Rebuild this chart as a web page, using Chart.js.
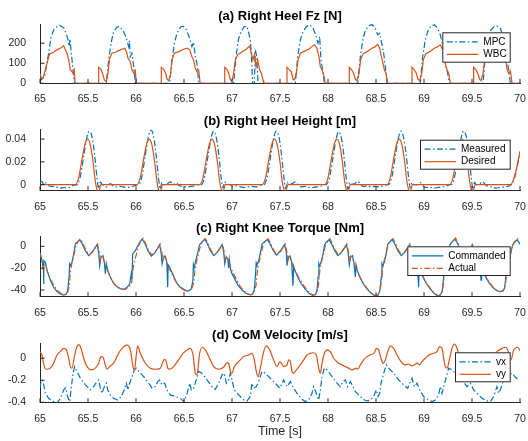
<!DOCTYPE html>
<html lang="en">
<head>
<meta charset="UTF-8">
<title>Right Heel / Knee / CoM</title>
<script src="https://cdn.jsdelivr.net/npm/chart.js"></script>
<style>
  body { margin: 0; background: #fff; }
  #wrap { position: relative; width: 528px; height: 441px; }
  #wrap canvas { position: absolute; left: 0; }
</style>
</head>
<body>
<div id="wrap">
  <canvas id="fzChart" width="528" height="108" style="top:0px"></canvas>
  <canvas id="heightChart" width="528" height="102" style="top:108px"></canvas>
  <canvas id="torqueChart" width="528" height="106" style="top:210px"></canvas>
  <canvas id="velChart" width="528" height="125" style="top:316px"></canvas>
</div>
<script>
// ---- ticks ----
const xTicks = [65, 65.5, 66, 66.5, 67, 67.5, 68, 68.5, 69, 69.5, 70];
const fzTicks = [0, 100, 200];
const heightTicks = [0, 0.02, 0.04];
const torqueTicks = [-40, -20, 0];
const velTicks = [-0.4, -0.2, 0];

// ---- (a) right heel Fz [N], [time, value] ----
const fzMpc = [
  [65.000, 30], [65.012, 18], [65.03, 25], [65.05, 38], [65.09, 150], [65.115, 233], [65.15, 275], [65.205, 290],
  [65.247, 277], [65.274, 245], [65.292, 218], [65.303, 185], [65.313, 222], [65.323, 165], [65.344, 67], [65.358, 0],
  [65.69, 0], [65.715, 117], [65.74, 200], [65.767, 258], [65.80, 280], [65.83, 284], [65.865, 265], [65.90, 225],
  [65.924, 183], [65.932, 212], [65.94, 133], [65.958, 150], [65.976, 83], [65.993, 0],
  [66.351, 0], [66.375, 117], [66.40, 200], [66.427, 250], [66.462, 280], [66.49, 285], [66.524, 268], [66.559, 225],
  [66.583, 183], [66.60, 205], [66.618, 133], [66.635, 100], [66.653, 0],
  [67.017, 0], [67.042, 133], [67.066, 217], [67.094, 258], [67.128, 283], [67.156, 284], [67.174, 252], [67.191, 217],
  [67.201, 150], [67.215, 0], [67.233, 0], [67.243, 167], [67.257, 133], [67.271, 0],
  [67.66, 0], [67.684, 133], [67.712, 217], [67.74, 258], [67.774, 283], [67.809, 292], [67.844, 275], [67.872, 242],
  [67.896, 200], [67.913, 233], [67.927, 117], [67.944, 67], [67.962, 0],
  [68.309, 0], [68.337, 133], [68.365, 225], [68.392, 267], [68.427, 288], [68.462, 293], [68.493, 275], [68.517, 242],
  [68.538, 250], [68.559, 200], [68.58, 150], [68.597, 83], [68.615, 0],
  [68.962, 0], [68.986, 133], [69.014, 217], [69.042, 263], [69.076, 288], [69.111, 292], [69.142, 275], [69.17, 242],
  [69.194, 192], [69.212, 133], [69.229, 83], [69.247, 50], [69.264, 0],
  [69.615, 0], [69.639, 133], [69.663, 217], [69.698, 267], [69.733, 285], [69.76, 286], [69.795, 275], [69.823, 233],
  [69.847, 183], [69.865, 117], [69.882, 67], [69.899, 0], [70.0, 0]
];
const fzWbc = [
  [65.000, 50], [65.014, 25], [65.031, 25], [65.045, 50], [65.073, 100], [65.10, 147], [65.142, 155], [65.177, 167],
  [65.212, 175], [65.247, 188], [65.264, 167], [65.281, 150], [65.299, 117], [65.316, 67], [65.333, 58], [65.344, 50],
  [65.356, 67], [65.366, 0],
  [65.611, 0], [65.611, 80], [65.635, 70], [65.656, 42], [65.67, 17], [65.69, 8], [65.708, 50], [65.726, 125],
  [65.75, 150], [65.785, 155], [65.82, 163], [65.854, 170], [65.882, 175], [65.90, 158], [65.917, 125], [65.94, 108],
  [65.958, 67], [65.976, 50], [65.993, 63], [66.003, 0],
  [66.264, 0], [66.264, 80], [66.288, 70], [66.309, 50], [66.323, 20], [66.34, 13], [66.358, 42], [66.375, 117],
  [66.40, 150], [66.444, 158], [66.497, 170], [66.531, 175], [66.559, 167], [66.583, 133], [66.60, 117], [66.618, 75],
  [66.635, 58], [66.653, 67], [66.668, 0],
  [66.924, 0], [66.924, 80], [66.948, 70], [66.965, 50], [66.983, 17], [67.0, 12], [67.017, 50], [67.035, 117],
  [67.059, 142], [67.104, 158], [67.149, 170], [67.184, 187], [67.201, 150], [67.219, 117], [67.233, 142], [67.25, 83],
  [67.267, 117], [67.288, 67], [67.306, 50], [67.323, 17], [67.33, 0],
  [67.573, 0], [67.573, 80], [67.597, 67], [67.618, 58], [67.635, 20], [67.649, 17], [67.67, 50], [67.688, 117],
  [67.712, 150], [67.747, 158], [67.799, 170], [67.833, 183], [67.858, 192], [67.885, 175], [67.906, 133], [67.92, 83],
  [67.938, 67], [67.955, 42], [67.972, 0],
  [68.222, 0], [68.222, 80], [68.247, 67], [68.267, 50], [68.285, 20], [68.302, 13], [68.323, 50], [68.34, 117],
  [68.365, 147], [68.406, 158], [68.458, 175], [68.493, 183], [68.517, 195], [68.538, 175], [68.556, 133], [68.573, 100],
  [68.587, 67], [68.604, 50], [68.622, 0],
  [68.875, 0], [68.875, 80], [68.899, 67], [68.92, 50], [68.938, 20], [68.955, 13], [68.976, 50], [68.993, 117],
  [69.017, 147], [69.059, 158], [69.108, 175], [69.142, 183], [69.17, 192], [69.191, 170], [69.208, 133], [69.226, 92],
  [69.24, 67], [69.257, 50], [69.274, 0],
  [69.517, 0], [69.517, 80], [69.542, 67], [69.559, 50], [69.58, 20], [69.594, 13], [69.615, 50], [69.632, 117],
  [69.656, 147], [69.70, 160], [69.75, 172], [69.80, 185], [69.823, 175], [69.847, 133], [69.865, 67], [69.882, 50],
  [69.90, 63], [69.917, 0], [70.0, 0]
];

// ---- (b) right heel height [m] ----
const heightMeasured = [
  [65.0, 0.0015], [65.02, 0.003], [65.04, 0.0], [65.06, 0.0015], [65.09, -0.001], [65.13, -0.0015], [65.17, -0.002],
  [65.21, -0.003], [65.25, -0.0025], [65.29, -0.003], [65.32, -0.002], [65.35, -0.0005],
  [65.385, 0], [65.42, 0.0073], [65.455, 0.025], [65.49, 0.042], [65.514, 0.047], [65.542, 0.042], [65.569, 0.026],
  [65.594, 0.006], [65.611, -0.0035], [65.628, 0.0023], [65.646, 0.0005],
  [65.70, -0.002], [65.73, 0.001], [65.76, -0.001], [65.79, -0.002], [65.83, -0.0015], [65.87, -0.002], [65.90, -0.0025],
  [65.94, -0.002], [65.98, -0.001], [66.02, 0.0],
  [66.027, 0], [66.062, 0.0075], [66.097, 0.026], [66.132, 0.043], [66.156, 0.048], [66.184, 0.042], [66.211, 0.025],
  [66.236, 0.005], [66.253, -0.004], [66.27, 0.002], [66.288, 0.0],
  [66.33, 0.001], [66.36, 0.0025], [66.39, 0.0], [66.42, 0.0015], [66.45, -0.001], [66.49, -0.0015], [66.53, -0.002],
  [66.57, -0.0015], [66.61, -0.001], [66.65, 0.0], [66.675, 0.0],
  [66.68, 0], [66.715, 0.007], [66.75, 0.025], [66.785, 0.042], [66.809, 0.047], [66.837, 0.041], [66.864, 0.025],
  [66.889, 0.005], [66.906, -0.003], [66.923, 0.0025], [66.941, 0.0005],
  [66.98, 0.0], [67.01, -0.0015], [67.05, -0.001], [67.09, -0.002], [67.13, -0.0025], [67.17, -0.002], [67.21, -0.0015],
  [67.25, -0.002], [67.29, -0.001], [67.325, 0],
  [67.332, 0], [67.367, 0.007], [67.402, 0.025], [67.437, 0.042], [67.461, 0.047], [67.489, 0.042], [67.516, 0.026],
  [67.541, 0.006], [67.558, -0.0035], [67.575, 0.002], [67.593, 0.0],
  [67.63, 0.001], [67.66, 0.0025], [67.69, 0.0], [67.72, -0.002], [67.76, -0.0015], [67.80, -0.0025], [67.84, -0.0025],
  [67.88, -0.002], [67.92, -0.0015], [67.975, 0],
  [67.982, 0], [68.017, 0.0068], [68.052, 0.024], [68.087, 0.041], [68.111, 0.0465], [68.139, 0.041], [68.166, 0.025],
  [68.191, 0.005], [68.208, -0.004], [68.225, 0.002], [68.243, 0.0005],
  [68.28, 0.001], [68.31, 0.003], [68.34, 0.0], [68.37, -0.0015], [68.41, -0.001], [68.45, -0.002], [68.49, -0.0015],
  [68.53, -0.002], [68.57, -0.001], [68.625, 0],
  [68.631, 0], [68.666, 0.007], [68.701, 0.025], [68.736, 0.042], [68.76, 0.047], [68.788, 0.041], [68.815, 0.026],
  [68.84, 0.006], [68.857, -0.003], [68.874, 0.002], [68.892, 0.0],
  [68.93, 0.0], [68.96, 0.002], [68.99, -0.001], [69.02, -0.0025], [69.06, -0.002], [69.10, -0.003], [69.14, -0.0025],
  [69.18, -0.002], [69.22, -0.0015], [69.275, 0],
  [69.284, 0], [69.319, 0.007], [69.354, 0.025], [69.389, 0.042], [69.413, 0.047], [69.441, 0.042], [69.468, 0.026],
  [69.493, 0.006], [69.51, -0.004], [69.527, 0.002], [69.545, 0.0],
  [69.58, 0.001], [69.61, 0.0025], [69.64, 0.0], [69.67, -0.0015], [69.71, -0.002], [69.75, -0.003], [69.79, -0.0025],
  [69.83, -0.002], [69.87, -0.0015], [69.91, 0.0], [69.94, 0.005], [69.97, 0.015], [70.0, 0.029]
];
const heightDesired = [
  [65.0, 0], [65.367, 0], [65.402, 0.0058], [65.437, 0.022], [65.472, 0.0365], [65.497, 0.04], [65.524, 0.035],
  [65.552, 0.0205], [65.576, 0.003], [65.594, -0.0044], [65.611, -0.006], [65.635, 0],
  [66.009, 0], [66.044, 0.006], [66.079, 0.0222], [66.114, 0.0366], [66.139, 0.04], [66.166, 0.0348], [66.194, 0.0203],
  [66.218, 0.0028], [66.236, -0.0045], [66.253, -0.006], [66.277, 0],
  [66.662, 0], [66.697, 0.0057], [66.732, 0.022], [66.767, 0.0364], [66.792, 0.04], [66.819, 0.035], [66.847, 0.0204],
  [66.871, 0.003], [66.889, -0.0044], [66.906, -0.006], [66.93, 0],
  [67.314, 0], [67.349, 0.0059], [67.384, 0.0221], [67.419, 0.0365], [67.444, 0.04], [67.471, 0.0349], [67.499, 0.0205],
  [67.523, 0.0029], [67.541, -0.0044], [67.558, -0.006], [67.582, 0],
  [67.964, 0], [67.999, 0.0058], [68.034, 0.022], [68.069, 0.0366], [68.094, 0.04], [68.121, 0.035], [68.149, 0.0206],
  [68.173, 0.003], [68.191, -0.0043], [68.208, -0.006], [68.232, 0],
  [68.613, 0], [68.648, 0.0058], [68.683, 0.0221], [68.718, 0.0365], [68.743, 0.04], [68.77, 0.035], [68.798, 0.0205],
  [68.822, 0.003], [68.84, -0.0044], [68.857, -0.006], [68.881, 0],
  [69.266, 0], [69.301, 0.0058], [69.336, 0.022], [69.371, 0.0365], [69.396, 0.04], [69.423, 0.035], [69.451, 0.0205],
  [69.475, 0.003], [69.493, -0.0044], [69.51, -0.006], [69.534, 0],
  [69.90, 0], [69.93, 0.004], [69.96, 0.013], [70.0, 0.029]
];

// ---- (c) right knee torque [Nm] ----
const torqueCommanded = [
  [65.0, -7.6], [65.003, -8.5], [65.021, -13], [65.036, -20], [65.038, -34.5], [65.041, -13], [65.056, -14.6],
  [65.073, -22], [65.108, -31], [65.142, -37.5], [65.177, -41.5], [65.212, -43.7],
  [65.247, -44.6], [65.274, -43.7], [65.288, -40.6], [65.302, -28.4], [65.309, -16.2], [65.316, -17.7], [65.333, -14.6],
  [65.351, -7], [65.368, 2.1], [65.385, 3.7], [65.413, 5.8], [65.438, 2.7], [65.472, -4], [65.507, -8.5], [65.542, -5.5],
  [65.576, -0.9], [65.594, 1.5], [65.611, -5.5], [65.622, -17.7], [65.635, -10], [65.656, -8.5], [65.67, -14.6],
  [65.681, -25], [65.691, -16], [65.705, -22], [65.733, -28.4], [65.767, -34], [65.809, -37.5], [65.844, -39],
  [65.878, -39.5],
  [65.906, -37.5], [65.934, -34.5], [65.951, -25], [65.958, -30], [65.965, -7], [65.976, -6], [65.993, -4], [66.01, -0.9],
  [66.045, 4.6], [66.065, 6.7], [66.09, 3], [66.125, -4], [66.16, -9], [66.195, -6], [66.228, -1.5], [66.246, 1.2],
  [66.262, -6], [66.272, -16], [66.284, -11], [66.305, -9], [66.322, -15], [66.33, -37.5], [66.335, -17], [66.35, -19],
  [66.37, -23], [66.39, -27], [66.42, -33], [66.46, -37.5], [66.50, -40], [66.53, -41],
  [66.555, -40.5], [66.575, -39], [66.592, -32], [66.598, -17], [66.605, -20], [66.62, -14], [66.64, -7], [66.66, 1],
  [66.683, 3.5], [66.715, 6.5], [66.74, 3], [66.775, -4], [66.81, -8.5], [66.845, -5.5], [66.88, -1], [66.897, 1.5],
  [66.913, -5], [66.925, -16], [66.937, -10], [66.955, -11], [66.965, -20], [66.972, -12], [66.985, -21], [67.0, -25],
  [67.03, -30], [67.065, -36], [67.105, -40], [67.145, -43], [67.19, -44.5],
  [67.215, -43.5], [67.232, -40], [67.245, -26], [67.252, -15], [67.26, -17], [67.278, -13], [67.296, -6], [67.313, 2],
  [67.335, 4], [67.368, 6], [67.392, 3], [67.428, -3.5], [67.463, -8], [67.497, -5], [67.531, -0.5], [67.548, 1.5],
  [67.566, -5.5], [67.573, -17.7], [67.585, -10], [67.605, -9], [67.622, -15], [67.635, -36], [67.642, -18],
  [67.655, -22], [67.685, -28], [67.72, -34], [67.76, -39], [67.80, -43], [67.84, -44.8],
  [67.87, -44], [67.885, -40.5], [67.898, -28], [67.905, -16], [67.912, -18], [67.93, -14], [67.948, -7], [67.965, 1.5],
  [67.985, 4], [68.01, 6], [68.035, 2.5], [68.07, -4], [68.105, -8.5], [68.14, -5.5], [68.175, -1], [68.192, 1.5],
  [68.21, -5.5], [68.222, -17], [68.235, -10], [68.255, -8.5], [68.27, -15], [68.285, -28], [68.292, -17], [68.305, -22],
  [68.33, -28], [68.365, -34], [68.405, -39], [68.45, -43], [68.49, -45.3],
  [68.52, -44.5], [68.54, -41], [68.555, -28], [68.562, -16], [68.57, -18], [68.588, -14], [68.606, -7], [68.623, 2],
  [68.643, 4], [68.668, 6], [68.693, 2.7], [68.728, -4], [68.763, -8.5], [68.797, -5.5], [68.832, -1], [68.85, 1.5],
  [68.866, -5.5], [68.877, -17], [68.89, -10], [68.91, -8.5], [68.93, -15], [68.944, -37.5], [68.95, -17], [68.962, -22],
  [68.99, -28.4], [69.025, -34], [69.065, -39], [69.105, -43], [69.14, -45.3],
  [69.17, -44.5], [69.19, -41], [69.205, -28], [69.212, -16], [69.22, -18], [69.238, -14], [69.256, -7], [69.273, 2],
  [69.293, 4], [69.322, 6.5], [69.347, 3], [69.382, -4], [69.417, -8.5], [69.451, -5.5], [69.486, -1], [69.503, 1.5],
  [69.52, -5.5], [69.53, -17], [69.543, -10], [69.565, -8.5], [69.58, -15], [69.594, -31], [69.60, -17], [69.615, -22],
  [69.642, -28], [69.675, -33], [69.715, -37.5], [69.755, -40.5], [69.79, -41.5],
  [69.82, -41], [69.84, -38], [69.855, -26], [69.862, -15], [69.87, -17], [69.888, -13], [69.905, -6], [69.922, 1],
  [69.942, 3.5], [69.97, 6], [69.985, 4], [70.0, 2]
];
const torqueActual = [
  [65.0, -6], [65.015, -10], [65.03, -20], [65.045, -16], [65.06, -18], [65.08, -24], [65.11, -30], [65.145, -36],
  [65.18, -40.5], [65.215, -43], [65.255, -44.5],
  [65.285, -43], [65.305, -36], [65.318, -22], [65.333, -15], [65.353, -8], [65.373, 0], [65.393, 4], [65.421, 7],
  [65.443, 3.5], [65.478, -3.5], [65.513, -8], [65.548, -5], [65.581, -0.5], [65.599, 2], [65.618, -6], [65.628, -13],
  [65.641, -9], [65.663, -12], [65.683, -18], [65.698, -20], [65.713, -24], [65.743, -30], [65.778, -35], [65.813, -37.5],
  [65.853, -39], [65.888, -39.5],
  [65.93, -37], [65.955, -33], [65.97, -20], [65.985, -13], [66.005, -7], [66.025, 0], [66.045, 4], [66.073, 7.5],
  [66.095, 3.5], [66.13, -3.5], [66.165, -8], [66.20, -5], [66.233, -0.5], [66.251, 2], [66.27, -6], [66.28, -13],
  [66.293, -9], [66.315, -12], [66.335, -20], [66.35, -21], [66.365, -24], [66.395, -29], [66.43, -34], [66.465, -37.5],
  [66.505, -39.5], [66.54, -41],
  [66.58, -39], [66.60, -34], [66.615, -21], [66.63, -14], [66.65, -7], [66.67, 0], [66.69, 4], [66.723, 7],
  [66.745, 3.5], [66.78, -3.5], [66.815, -8], [66.85, -5], [66.883, -0.5], [66.901, 2], [66.92, -6], [66.93, -13],
  [66.943, -9], [66.965, -14], [66.985, -19], [67.0, -22], [67.015, -25], [67.045, -30], [67.08, -36], [67.115, -40],
  [67.155, -43], [67.195, -44.5],
  [67.225, -43.5], [67.25, -36], [67.265, -22], [67.28, -15], [67.30, -8], [67.32, 0], [67.34, 4], [67.376, 7],
  [67.398, 3.5], [67.433, -3.5], [67.468, -8], [67.503, -5], [67.536, -0.5], [67.554, 2], [67.573, -6], [67.583, -13],
  [67.596, -9], [67.618, -12], [67.638, -20], [67.653, -21], [67.668, -24], [67.698, -29], [67.733, -34], [67.768, -38.5],
  [67.808, -42.5], [67.848, -44.8],
  [67.88, -43.5], [67.90, -36], [67.915, -22], [67.93, -15], [67.95, -8], [67.97, 0], [67.99, 4], [68.018, 7],
  [68.04, 3.5], [68.075, -3.5], [68.11, -8], [68.145, -5], [68.178, -0.5], [68.196, 2], [68.215, -6], [68.225, -13],
  [68.238, -9], [68.26, -12], [68.28, -18], [68.295, -20], [68.31, -24], [68.34, -29], [68.375, -34.5], [68.41, -39],
  [68.455, -43], [68.495, -45.3],
  [68.53, -44], [68.55, -36], [68.565, -22], [68.58, -15], [68.60, -8], [68.62, 0], [68.64, 4], [68.676, 7],
  [68.698, 3.5], [68.733, -3.5], [68.768, -8], [68.803, -5], [68.836, -0.5], [68.854, 2], [68.873, -6], [68.883, -13],
  [68.896, -9], [68.918, -12], [68.938, -19], [68.953, -21], [68.968, -24], [68.998, -29], [69.033, -34.5], [69.07, -39],
  [69.11, -43], [69.148, -45.3],
  [69.18, -44], [69.20, -36], [69.215, -22], [69.23, -15], [69.25, -8], [69.27, 0], [69.29, 4], [69.33, 7.5],
  [69.352, 3.5], [69.387, -3.5], [69.422, -8], [69.457, -5], [69.49, -0.5], [69.508, 2], [69.527, -6], [69.537, -13],
  [69.55, -9], [69.572, -12], [69.592, -19], [69.607, -21], [69.622, -24], [69.652, -29], [69.685, -33.5], [69.72, -37.5],
  [69.76, -40.5], [69.795, -41.5],
  [69.83, -40], [69.85, -34], [69.865, -21], [69.88, -14], [69.90, -7], [69.92, 0], [69.94, 4], [69.978, 7], [70.0, 5]
];

// ---- (d) CoM velocity [m/s] ----
const velX = [
  [65.0, -0.27], [65.014, -0.197], [65.031, -0.21], [65.056, -0.318], [65.09, -0.364], [65.142, -0.394], [65.177, -0.409],
  [65.212, -0.364], [65.247, -0.288], [65.267, -0.27], [65.288, -0.35], [65.309, -0.394], [65.323, -0.288],
  [65.344, -0.136], [65.361, -0.076], [65.385, -0.12], [65.42, -0.18], [65.472, -0.24], [65.524, -0.288],
  [65.559, -0.258], [65.594, -0.21], [65.611, -0.197], [65.628, -0.27], [65.646, -0.318], [65.67, -0.258],
  [65.691, -0.227], [65.705, -0.288], [65.733, -0.333], [65.767, -0.364], [65.809, -0.38], [65.844, -0.35],
  [65.878, -0.288], [65.899, -0.227], [65.917, -0.288], [65.934, -0.227], [65.958, -0.167], [65.983, -0.106],
  [66.003, -0.09], [66.028, -0.12], [66.08, -0.167], [66.132, -0.227], [66.167, -0.27], [66.201, -0.258],
  [66.226, -0.212], [66.247, -0.197], [66.271, -0.242], [66.299, -0.227], [66.323, -0.288], [66.358, -0.333],
  [66.41, -0.348], [66.462, -0.364], [66.497, -0.394], [66.514, -0.364], [66.538, -0.303], [66.559, -0.227],
  [66.576, -0.288], [66.601, -0.273], [66.628, -0.197], [66.653, -0.12], [66.688, -0.136], [66.74, -0.197],
  [66.792, -0.258], [66.826, -0.282], [66.861, -0.227], [66.896, -0.152], [66.92, -0.136], [66.941, -0.227],
  [66.965, -0.197], [66.983, -0.136], [67.0, -0.197], [67.024, -0.288], [67.07, -0.333], [67.122, -0.379],
  [67.156, -0.388], [67.191, -0.348], [67.208, -0.227], [67.226, -0.273], [67.253, -0.258], [67.278, -0.212],
  [67.312, -0.12], [67.347, -0.136], [67.399, -0.182], [67.451, -0.227], [67.497, -0.273], [67.538, -0.197],
  [67.573, -0.258], [67.608, -0.212], [67.642, -0.273], [67.677, -0.318], [67.729, -0.373], [67.764, -0.394],
  [67.799, -0.379], [67.833, -0.318], [67.851, -0.258], [67.878, -0.318], [67.903, -0.379], [67.92, -0.288],
  [67.938, -0.167], [67.962, -0.09], [67.99, -0.106], [68.042, -0.167], [68.094, -0.227], [68.128, -0.258],
  [68.156, -0.212], [68.181, -0.197], [68.205, -0.258], [68.233, -0.212], [68.26, -0.258], [68.285, -0.303],
  [68.319, -0.333], [68.365, -0.373], [68.406, -0.388], [68.441, -0.379], [68.476, -0.348], [68.503, -0.288],
  [68.521, -0.348], [68.538, -0.318], [68.552, -0.227], [68.58, -0.136], [68.608, -0.06], [68.632, -0.09],
  [68.684, -0.136], [68.736, -0.197], [68.788, -0.242], [68.83, -0.273], [68.858, -0.212], [68.875, -0.182],
  [68.899, -0.258], [68.927, -0.227], [68.955, -0.288], [68.997, -0.348], [69.038, -0.373], [69.083, -0.394],
  [69.118, -0.379], [69.153, -0.333], [69.17, -0.258], [69.188, -0.318], [69.205, -0.258], [69.233, -0.167],
  [69.257, -0.09], [69.292, -0.106], [69.344, -0.152], [69.396, -0.197], [69.448, -0.258], [69.483, -0.227],
  [69.517, -0.288], [69.552, -0.318], [69.604, -0.364], [69.656, -0.388], [69.691, -0.394], [69.726, -0.348],
  [69.76, -0.258], [69.778, -0.318], [69.795, -0.288], [69.83, -0.197], [69.865, -0.167], [69.917, -0.136],
  [69.962, -0.182], [70.0, -0.18]
];
const velY = [
  [65.0, 0.06], [65.02, 0.03], [65.045, -0.076], [65.066, -0.10], [65.108, -0.09], [65.142, -0.045], [65.177, 0.03],
  [65.212, 0.06], [65.247, 0.09], [65.274, 0.076], [65.299, 0], [65.316, -0.076], [65.333, -0.09], [65.358, 0.015],
  [65.378, 0.09], [65.403, 0.124], [65.427, 0.09], [65.455, 0], [65.49, -0.076], [65.531, -0.106], [65.576, -0.09],
  [65.611, -0.045], [65.635, 0.015], [65.656, 0.01], [65.68, -0.06], [65.698, -0.10], [65.726, -0.076], [65.767, -0.045],
  [65.809, 0.03], [65.854, 0.09], [65.906, 0.12], [65.941, 0.076], [65.965, -0.06], [65.983, -0.11], [66.003, 0.03],
  [66.017, 0.112], [66.045, 0.045], [66.097, -0.045], [66.149, -0.09], [66.201, -0.10], [66.253, -0.09],
  [66.281, -0.03], [66.299, -0.01], [66.316, -0.03], [66.33, -0.09], [66.351, -0.10], [66.392, -0.076],
  [66.444, -0.015], [66.49, 0.045], [66.531, 0.076], [66.566, 0.09], [66.594, 0.03], [66.618, -0.136], [66.635, -0.15],
  [66.663, 0.045], [66.688, 0.10], [66.722, 0.076], [66.774, -0.015], [66.809, -0.076], [66.861, -0.10],
  [66.913, -0.082], [66.948, -0.04], [66.965, -0.045], [66.983, -0.12], [67.0, -0.136], [67.024, -0.076],
  [67.07, -0.03], [67.122, 0.015], [67.174, 0.03], [67.208, 0.045], [67.233, -0.015], [67.253, -0.12], [67.271, -0.167],
  [67.295, -0.09], [67.33, 0.06], [67.358, 0.112], [67.392, 0.076], [67.427, 0], [67.469, -0.076], [67.50, -0.03],
  [67.538, -0.076], [67.573, -0.06], [67.59, -0.015], [67.608, -0.03], [67.625, -0.12], [67.642, -0.136],
  [67.67, -0.106], [67.712, -0.06], [67.747, -0.015], [67.781, 0.03], [67.816, 0.045], [67.851, 0.05], [67.878, 0.03],
  [67.903, -0.09], [67.92, -0.136], [67.938, -0.045], [67.962, 0.045], [67.99, 0.076], [68.024, 0.06], [68.059, 0],
  [68.111, -0.045], [68.146, -0.06], [68.181, -0.076], [68.215, -0.09], [68.25, -0.106], [68.295, -0.09],
  [68.309, -0.10], [68.337, -0.06], [68.372, -0.015], [68.406, 0.015], [68.441, 0.03], [68.483, 0.05], [68.503, 0.09],
  [68.528, 0.076], [68.552, 0], [68.573, -0.045], [68.597, -0.015], [68.622, 0.06], [68.649, 0.112], [68.684, 0.09],
  [68.719, 0.03], [68.76, -0.03], [68.806, -0.06], [68.84, -0.052], [68.875, -0.07], [68.899, -0.06], [68.927, -0.045],
  [68.955, -0.06], [68.979, -0.03], [69.014, 0], [69.049, 0.03], [69.101, 0.045], [69.135, 0.06], [69.163, 0.106],
  [69.188, 0.09], [69.205, 0], [69.222, -0.076], [69.24, -0.09], [69.264, -0.015], [69.292, 0.09], [69.316, 0.13],
  [69.337, 0.106], [69.361, 0.045], [69.413, -0.015], [69.483, -0.076], [69.552, -0.09], [69.622, -0.06],
  [69.691, 0], [69.76, 0.06], [69.813, 0.09], [69.847, 0.10], [69.872, 0.076], [69.892, 0], [69.906, -0.015],
  [69.934, 0.076], [69.976, 0.10], [70.0, 0.07]
];

const FONT = '"Liberation Sans", Arial, Helvetica, sans-serif';
const BLUE = '#0072BD';
const ORANGE = '#D95319';
const INK = '#262626';
const DASHDOT = [6, 2.5, 1.5, 2.5];

Chart.defaults.font.family = FONT;
Chart.defaults.color = INK;

const pts = arr => arr.map(([x, y]) => ({ x, y }));

// inward ticks, bold title, x label and an opaque legend box (MATLAB look)
const matlabLook = {
  id: 'matlabLook',
  afterDraw(chart, args, opts) {
    const { ctx, chartArea: a, scales } = chart;
    const cx = (a.left + a.right) / 2;
    ctx.save();

    ctx.strokeStyle = INK;
    ctx.lineWidth = 1;
    ctx.beginPath();
    scales.x.ticks.forEach(t => {
      const px = scales.x.getPixelForValue(t.value);
      ctx.moveTo(px, a.bottom);
      ctx.lineTo(px, a.bottom - 4.5);
    });
    scales.y.ticks.forEach(t => {
      const py = scales.y.getPixelForValue(t.value);
      ctx.moveTo(a.left, py);
      ctx.lineTo(a.left + 4.5, py);
    });
    ctx.stroke();

    ctx.textAlign = 'center';
    ctx.textBaseline = 'middle';
    ctx.fillStyle = '#000';
    ctx.font = 'bold 13px ' + FONT;
    ctx.fillText(opts.title, cx, a.top - 8);

    if (opts.xlabel) {
      ctx.fillStyle = INK;
      ctx.font = '12.5px ' + FONT;
      ctx.fillText(opts.xlabel, cx, a.bottom + 29);
    }

    const L = opts.legend;
    ctx.fillStyle = '#fff';
    ctx.fillRect(L.x, L.y, L.w, L.h);
    ctx.strokeStyle = INK;
    ctx.lineWidth = 1;
    ctx.strokeRect(L.x + 0.5, L.y + 0.5, L.w - 1, L.h - 1);
    ctx.textAlign = 'left';
    ctx.font = '10px ' + FONT;
    chart.data.datasets.forEach((ds, i) => {
      const ly = L.y + 9.5 + i * 12.5;
      ctx.strokeStyle = ds.borderColor;
      ctx.lineWidth = ds.borderWidth;
      ctx.setLineDash(ds.borderDash || []);
      ctx.beginPath();
      ctx.moveTo(L.x + 4.5, ly);
      ctx.lineTo(L.x + 36, ly);
      ctx.stroke();
      ctx.setLineDash([]);
      ctx.fillStyle = '#000';
      ctx.fillText(ds.label, L.x + 41, ly);
    });
    ctx.restore();
  }
};

function scalesFor(yMin, yMax, yTicks, xHeight) {
  return {
    x: {
      type: 'linear', min: 65, max: 70, z: 1,
      afterBuildTicks: s => { s.ticks = xTicks.map(v => ({ value: v })); },
      afterFit: s => { s.height = xHeight; },
      grid: { display: false },
      border: { color: INK, width: 1 },
      ticks: { color: INK, font: { size: 10.5 }, padding: 2, maxRotation: 0, autoSkip: false, callback: v => String(v) }
    },
    y: {
      type: 'linear', min: yMin, max: yMax, z: 1,
      afterBuildTicks: s => { s.ticks = yTicks.map(v => ({ value: v })); },
      afterFit: s => { s.width = 40; },
      grid: { display: false },
      border: { color: INK, width: 1 },
      ticks: { color: INK, font: { size: 10.5 }, padding: 6, callback: v => String(v) }
    }
  };
}

function line(label, data, color, dashed, smooth, order) {
  return {
    label, data: pts(data), borderColor: color, borderWidth: 1.2,
    borderDash: dashed ? DASHDOT : [], pointRadius: 0, fill: false,
    cubicInterpolationMode: smooth ? 'monotone' : 'default', tension: 0, order
  };
}

function makeChart(id, datasets, scales, areaTop, look) {
  return new Chart(document.getElementById(id), {
    type: 'line',
    data: { datasets },
    options: {
      responsive: false,
      animation: false,
      layout: { padding: { top: areaTop, right: 8, left: 0, bottom: 0 } },
      plugins: { legend: { display: false }, tooltip: { enabled: false }, matlabLook: look },
      scales
    },
    plugins: [matlabLook]
  });
}

makeChart('fzChart',
  [line('MPC', fzMpc, BLUE, true, false, 2), line('WBC', fzWbc, ORANGE, false, false, 1)],
  scalesFor(0, 296, fzTicks, 24.7), 24,
  { title: '(a) Right Heel Fz [N]', legend: { x: 442.3, y: 32.3, w: 68.4, h: 30.4 } });

makeChart('heightChart',
  [line('Measured', heightMeasured, BLUE, true, true, 2), line('Desired', heightDesired, ORANGE, false, true, 1)],
  scalesFor(-0.0053, 0.0482, heightTicks, 19.3), 21.7,
  { title: '(b) Right Heel Height [m]', legend: { x: 420, y: 31.7, w: 90.7, h: 30 } });

makeChart('torqueChart',
  [line('Commanded', torqueCommanded, BLUE, false, false, 2), line('Actual', torqueActual, ORANGE, true, false, 1)],
  scalesFor(-46.1, 8.8, torqueTicks, 19.3), 26.7,
  { title: '(c) Right Knee Torque [Nm]', legend: { x: 407.3, y: 36.3, w: 103.4, h: 29.7 } });

makeChart('velChart',
  [line('vx', velX, BLUE, true, false, 2), line('vy', velY, ORANGE, false, true, 1)],
  scalesFor(-0.404, 0.136, velTicks, 38.3), 27.3,
  { title: '(d) CoM Velocity [m/s]', xlabel: 'Time [s]', legend: { x: 455, y: 36.3, w: 55.7, h: 30 } });
</script>
</body>
</html>
